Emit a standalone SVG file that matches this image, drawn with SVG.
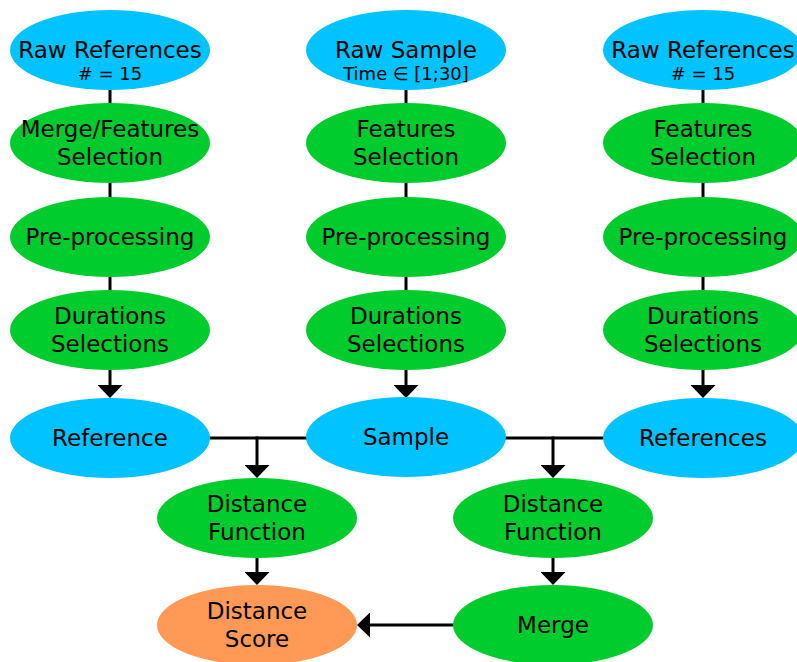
<svg xmlns="http://www.w3.org/2000/svg" width="797" height="662" viewBox="0 0 797 662">
<defs>
<style>
.b{fill:#00c3ff}
.g{fill:#00cc2e}
.o{fill:#ff9955}
text{font-family:"DejaVu Sans",sans-serif;font-size:23px;fill:#000;text-anchor:middle}
.s{font-size:18px}
.c{stroke:#000;stroke-width:3;fill:none}
</style>
<marker id="ah" markerWidth="13" markerHeight="25" refX="0" refY="12.5" viewBox="0 0 13 25" markerUnits="userSpaceOnUse" orient="auto">
<path d="M0,0 L13,12.5 L0,25 Z" fill="#000"/>
</marker>
</defs>
<g id="connectors">
<line class="c" x1="110" y1="89" x2="110" y2="104"/>
<line class="c" x1="110" y1="182" x2="110" y2="198"/>
<line class="c" x1="110" y1="276" x2="110" y2="291"/>
<line class="c" x1="110" y1="369" x2="110" y2="385" marker-end="url(#ah)"/>
<line class="c" x1="406" y1="89" x2="406" y2="104"/>
<line class="c" x1="406" y1="182" x2="406" y2="198"/>
<line class="c" x1="406" y1="276" x2="406" y2="291"/>
<line class="c" x1="406" y1="369" x2="406" y2="385" marker-end="url(#ah)"/>
<line class="c" x1="703" y1="89" x2="703" y2="104"/>
<line class="c" x1="703" y1="182" x2="703" y2="198"/>
<line class="c" x1="703" y1="276" x2="703" y2="291"/>
<line class="c" x1="703" y1="369" x2="703" y2="385" marker-end="url(#ah)"/>
<line class="c" x1="209" y1="438" x2="307" y2="438"/>
<line class="c" x1="257" y1="436.5" x2="257" y2="465" marker-end="url(#ah)"/>
<line class="c" x1="505" y1="438" x2="604" y2="438"/>
<line class="c" x1="553" y1="436.5" x2="553" y2="465" marker-end="url(#ah)"/>
<line class="c" x1="257" y1="557" x2="257" y2="572" marker-end="url(#ah)"/>
<line class="c" x1="553" y1="557" x2="553" y2="572" marker-end="url(#ah)"/>
<line class="c" x1="455" y1="625" x2="370" y2="625" marker-end="url(#ah)"/>
</g>
<g id="rawRefL"><ellipse class="b" cx="110" cy="50" rx="100" ry="40"/><text x="110" y="58">Raw References</text><text class="s" x="110" y="80"># = 15</text></g>
<g id="rawSample"><ellipse class="b" cx="406" cy="50" rx="100" ry="40"/><text x="406" y="58">Raw Sample</text><text class="s" x="406" y="80">Time ∈ [1;30]</text></g>
<g id="rawRefR"><ellipse class="b" cx="703" cy="50" rx="100" ry="40"/><text x="703" y="58">Raw References</text><text class="s" x="703" y="80"># = 15</text></g>
<g id="featL"><ellipse class="g" cx="110" cy="143" rx="100" ry="40"/><text x="110" y="137">Merge/Features</text><text x="110" y="165">Selection</text></g>
<g id="featM"><ellipse class="g" cx="406" cy="143" rx="100" ry="40"/><text x="406" y="137">Features</text><text x="406" y="165">Selection</text></g>
<g id="featR"><ellipse class="g" cx="703" cy="143" rx="100" ry="40"/><text x="703" y="137">Features</text><text x="703" y="165">Selection</text></g>
<g id="preL"><ellipse class="g" cx="110" cy="237" rx="100" ry="40"/><text x="110" y="245">Pre-processing</text></g>
<g id="preM"><ellipse class="g" cx="406" cy="237" rx="100" ry="40"/><text x="406" y="245">Pre-processing</text></g>
<g id="preR"><ellipse class="g" cx="703" cy="237" rx="100" ry="40"/><text x="703" y="245">Pre-processing</text></g>
<g id="durL"><ellipse class="g" cx="110" cy="330" rx="100" ry="40"/><text x="110" y="324">Durations</text><text x="110" y="352">Selections</text></g>
<g id="durM"><ellipse class="g" cx="406" cy="330" rx="100" ry="40"/><text x="406" y="324">Durations</text><text x="406" y="352">Selections</text></g>
<g id="durR"><ellipse class="g" cx="703" cy="330" rx="100" ry="40"/><text x="703" y="324">Durations</text><text x="703" y="352">Selections</text></g>
<g id="reference"><ellipse class="b" cx="110" cy="438" rx="100" ry="40"/><text x="110" y="446">Reference</text></g>
<g id="sample"><ellipse class="b" cx="406" cy="437" rx="100" ry="40"/><text x="406" y="445">Sample</text></g>
<g id="references"><ellipse class="b" cx="703" cy="438" rx="100" ry="40"/><text x="703" y="446">References</text></g>
<g id="distL"><ellipse class="g" cx="257" cy="518" rx="100" ry="40"/><text x="257" y="512">Distance</text><text x="257" y="540">Function</text></g>
<g id="distR"><ellipse class="g" cx="553" cy="518" rx="100" ry="40"/><text x="553" y="512">Distance</text><text x="553" y="540">Function</text></g>
<g id="score"><ellipse class="o" cx="257" cy="625" rx="100" ry="40"/><text x="257" y="619">Distance</text><text x="257" y="647">Score</text></g>
<g id="merge"><ellipse class="g" cx="553" cy="625" rx="100" ry="40"/><text x="553" y="633">Merge</text></g>
</svg>
